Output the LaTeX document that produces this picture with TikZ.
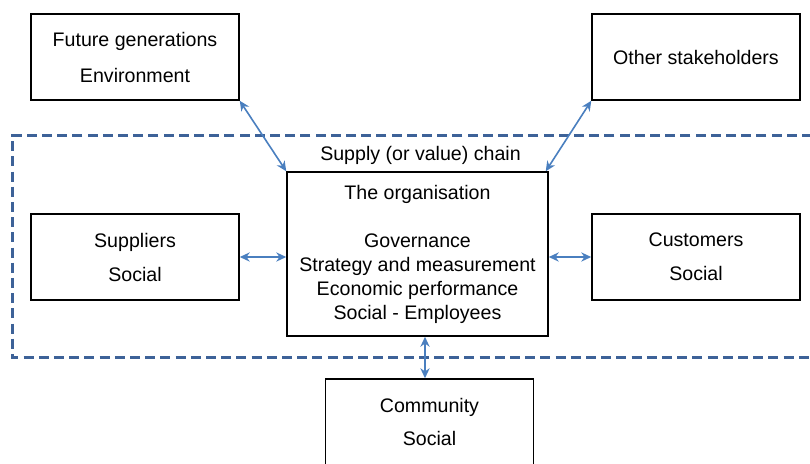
\documentclass[tikz,border=0pt]{standalone}
\usepackage{fontspec}
\setmainfont{Liberation Sans}
\usetikzlibrary{arrows.meta}
\definecolor{dashblue}{HTML}{3D6298}
\definecolor{arrblue}{HTML}{4A7FBF}
\begin{document}
\begin{tikzpicture}[x=0.5pt,y=-0.5pt,
  box/.style={draw=black,line width=0.75pt,rectangle,inner sep=0pt,
    minimum width=104pt,minimum height=43pt,align=center},
  link/.style={draw=arrblue,line width=0.8pt,{Stealth[length=5pt,width=4.6pt]}-{Stealth[length=5pt,width=4.6pt]}},
  chain/.style={draw=dashblue,line width=1.5pt,dash pattern=on 5pt off 2.6pt}]
\useasboundingbox (0,0) rectangle (810,463);
\draw[chain] (812,135.5) -- (12,135.5) -- (12,357.5) -- (812,357.5);
\node[box,font=\fontsize{9.8}{18}\selectfont] (fut) at (135,57) {Future generations\\Environment};
\node[box,font=\fontsize{9.8}{18}\selectfont] (oth) at (696,57) {Other stakeholders};
\node[box,font=\fontsize{9.8}{17}\selectfont] (sup) at (135,257) {Suppliers\\Social};
\node[box,font=\fontsize{9.8}{17}\selectfont] (cus) at (696,257) {Customers\\Social};
\node[box,minimum width=130.5pt,minimum height=82pt,font=\fontsize{9.8}{12}\selectfont] (org) at (417.5,254)
  {The organisation\\[12pt]Governance\\Strategy and measurement\\Economic performance\\Social - Employees};
\node[box,font=\fontsize{9.8}{16.5}\selectfont] (com) at (429.5,422) {Community\\Social};
\node[font=\fontsize{9.8}{12}\selectfont,inner sep=0pt] (lbl) at (420.5,155) {Supply (or value) chain};
\coordinate (cx) at (425,0);
\draw[link] (fut.south east) -- (org.north west);
\draw[link] (oth.south west) -- ([xshift=-1.5pt]org.north east);
\draw[link] (sup.east) -- (sup.east -| org.west);
\draw[link] (cus.west) -- (cus.west -| org.east);
\draw[link] (org.south -| cx) -- (com.north -| cx);
\end{tikzpicture}
\end{document}
